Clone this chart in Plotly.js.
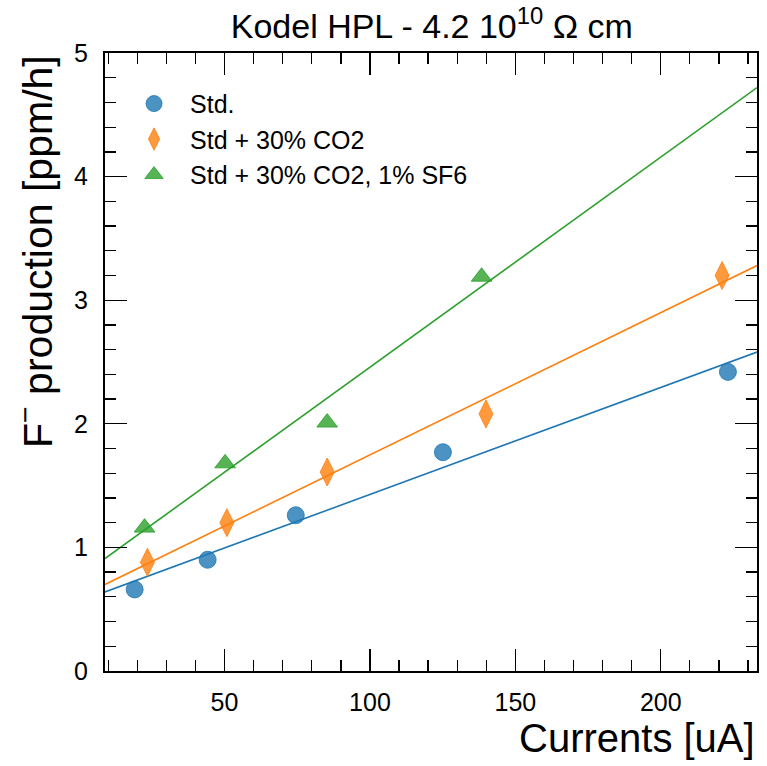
<!DOCTYPE html>
<html>
<head>
<meta charset="utf-8">
<script src="https://cdn.plot.ly/plotly-3.0.1.min.js"></script>
<style>
html,body{margin:0;padding:0;background:#fff;}
#chart{width:767px;height:766px;}
</style>
</head>
<body>
<div id="chart"></div>
<script>
// ---- data ----
const stdX = [19.1, 44.2, 74.5, 125.1, 223.1];
const stdY = [0.66, 0.90, 1.26, 1.77, 2.42];

const co2X = [23.5, 50.8, 85.3, 139.9, 221.1];
const co2Y = [0.88, 1.20, 1.61, 2.08, 3.20];

const sf6X = [22.5, 50.2, 85.3, 138.4];
const sf6Y = [1.16, 1.68, 2.01, 3.19];

// fitted lines (end points at the frame edges)
const fitX = [8.9, 233.1];
const stdFitY = [0.64, 2.58];
const co2FitY = [0.70, 3.28];
const sf6FitY = [0.91, 4.72];

const seriesNames = ['Std.', 'Std + 30% CO2', 'Std + 30% CO2, 1% SF6'];
const xTickVals = [50, 100, 150, 200];
const yTickVals = [0, 1, 2, 3, 4, 5];

const FONT = 'Liberation Sans, Arial, Helvetica, sans-serif';
const cBlue = 'rgba(31,119,180,0.8)';
const cOrange = 'rgba(255,127,14,0.8)';
const cGreen = 'rgba(44,160,44,0.8)';

const traces = [
  {x: fitX, y: stdFitY, mode: 'lines', line: {color: '#1f77b4', width: 1.6}, showlegend: false, hoverinfo: 'skip'},
  {x: fitX, y: co2FitY, mode: 'lines', line: {color: '#ff7f0e', width: 1.6}, showlegend: false, hoverinfo: 'skip'},
  {x: fitX, y: sf6FitY, mode: 'lines', line: {color: '#2ca02c', width: 1.6}, showlegend: false, hoverinfo: 'skip'},
  {x: stdX, y: stdY, mode: 'markers', name: seriesNames[0],
   marker: {symbol: 'circle', size: 17, color: cBlue, line: {color: cBlue, width: 1}}},
  {x: co2X, y: co2Y, mode: 'markers', name: seriesNames[1],
   marker: {symbol: 'diamond-tall', size: 20, color: cOrange, line: {color: cOrange, width: 1}}},
  {x: sf6X, y: sf6Y, mode: 'markers', name: seriesNames[2],
   marker: {symbol: 'triangle-up', size: 18, color: cGreen, line: {color: cGreen, width: 1}}}
];

const layout = {
  width: 767, height: 766,
  margin: {l: 105, r: 10, t: 53, b: 95},
  paper_bgcolor: '#fff', plot_bgcolor: '#fff',
  font: {family: FONT, color: '#000'},
  title: {text: 'Kodel HPL - 4.2 10<sup>10</sup> Ω cm', font: {family: FONT, size: 34, color: '#000'},
          x: 0.563, xanchor: 'center', y: 0.966, yanchor: 'middle', xref: 'container', yref: 'container'},
  xaxis: {
    range: [fitX[0], fitX[1]], tickvals: xTickVals, ticks: 'inside', ticklen: 22, tickwidth: 1.3, tickcolor: '#000',
    showline: true, linecolor: '#000', linewidth: 2, mirror: 'allticks', showgrid: false, zeroline: false,
    tickfont: {family: FONT, size: 25, color: '#000'}, ticklabelstandoff: 8,
    minor: {dtick: 10, tick0: 0, ticks: 'inside', ticklen: 11, tickwidth: 1.3, tickcolor: '#000', showgrid: false}
  },
  yaxis: {
    range: [0, 5], tickvals: yTickVals, ticks: 'inside', ticklen: 22, tickwidth: 1.3, tickcolor: '#000',
    showline: true, linecolor: '#000', linewidth: 2, mirror: 'allticks', showgrid: false, zeroline: false,
    tickfont: {family: FONT, size: 25, color: '#000'}, ticklabelstandoff: 10,
    minor: {dtick: 0.2, tick0: 0, ticks: 'inside', ticklen: 11, tickwidth: 1.3, tickcolor: '#000', showgrid: false}
  },
  legend: {x: 0.02, y: 0.955, xanchor: 'left', yanchor: 'top', bgcolor: 'rgba(0,0,0,0)',
           font: {family: FONT, size: 25, color: '#000'}, itemwidth: 62},
  annotations: [
    {text: 'Currents [uA]', xref: 'paper', yref: 'paper', x: 1, xanchor: 'right', y: -0.1084, yanchor: 'middle',
     showarrow: false, font: {family: FONT, size: 40, color: '#000'}},
    {text: 'F<sup>−</sup> production [ppm/h]', xref: 'paper', yref: 'paper', x: -0.108, xanchor: 'center', y: 1, yanchor: 'top',
     textangle: -90, showarrow: false, font: {family: FONT, size: 41, color: '#000'}}
  ]
};

Plotly.newPlot('chart', traces, layout, {displayModeBar: false, staticPlot: true});
</script>
</body>
</html>
